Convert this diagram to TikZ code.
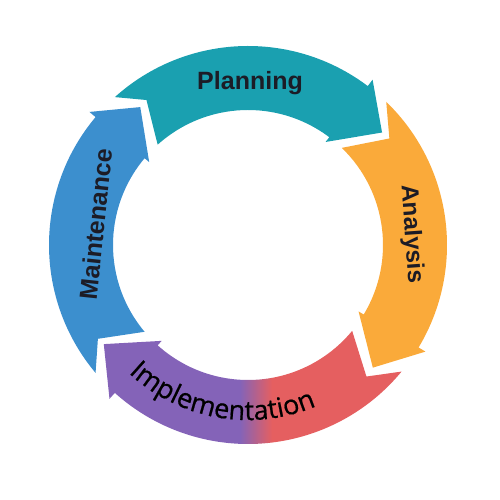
\documentclass[tikz,border=0pt]{standalone}
\usepackage{fontspec}
\setmainfont{Liberation Sans}
\newfontfamily\impfont[FakeBold=0.6]{Open Sans}
\usetikzlibrary{decorations.text}
\definecolor{teal1}{RGB}{26,160,176}
\definecolor{orange1}{RGB}{250,170,58}
\definecolor{red1}{RGB}{229,95,96}
\definecolor{purple1}{RGB}{132,99,184}
\definecolor{blue1}{RGB}{60,143,206}
\definecolor{txt}{RGB}{28,28,38}
% tail corner angle, notch angle, head corner angle, tip angle
\newcommand\ringarrow[4]{(#1:199) arc[start angle=#1, end angle=#3, radius=199] -- (#3:207) -- (#4:175) -- (#3:129) -- (#3:135) arc[start angle=#3, end angle=#1, radius=135] -- (#2:177) -- cycle}
\newcommand\impstyle{\impfont\fontsize{27}{32}\selectfont}
\begin{document}
\begin{tikzpicture}[x=1pt,y=1pt,
  lbl/.style={text=txt, inner sep=0pt, font=\fontsize{25}{30}\selectfont\bfseries}]
\useasboundingbox (0,0) rectangle (499,500);
\begin{scope}[shift={(248,255)}]
  \fill[teal1] \ringarrow{132}{125}{53}{40};
  \fill[orange1] \ringarrow{46}{37}{-31}{-44.5};
  \begin{scope}
    \clip \ringarrow{-39.5}{-48}{-132}{-145.5};
    \fill[purple1] (-260,-240) rectangle (-8,0);
    \shade[left color=purple1, right color=red1] (-8,-240) rectangle (24,0);
    \fill[red1] (24,-240) rectangle (260,0);
  \end{scope}
  \fill[blue1] \ringarrow{-140}{-148}{-220}{-232};
  \node[lbl, anchor=base] (planning) at (2,155) {Planning};
  \node[lbl, anchor=base, rotate=-86, font=\fontsize{24}{28}\selectfont\bfseries] (analysis) at (157,10.5) {Analysis};
  \node[lbl, anchor=base, rotate=84] (maintenance) at (-143.5,20) {Maintenance};
  \path[decorate, color=txt, decoration={text along path, text={|\impstyle|Implementation}, text align=center}]
    (195:175) arc[start angle=195, end angle=325, radius=175];
\end{scope}
\end{tikzpicture}
\end{document}
